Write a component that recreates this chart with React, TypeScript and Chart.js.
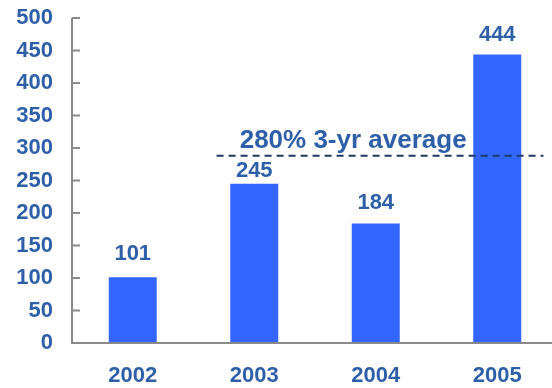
import React, { useEffect, useRef } from "react";
import { Chart, registerables } from "chart.js";

Chart.register(...registerables);

const years = ["2002", "2003", "2004", "2005"];
const values = [101, 245, 184, 444];
const yTicks = [0, 50, 100, 150, 200, 250, 300, 350, 400, 450, 500];
const avgValue = 288;
const avgLabel = "280% 3-yr average";
const avgSpan = [0.69, 3.38];
const avgLabelAt = 0.88;
const labelGaps = [17, 7, 14, 13];

const FONT = "'Liberation Sans', Arial, sans-serif";
const TEXT = "#2E5FA9";
const BAR = "#3366FF";
const AXIS = "#8a8a8a";

export default function App() {
  const ref = useRef<HTMLCanvasElement>(null);
  useEffect(() => {
    const canvas = ref.current!;
    const custom = {
      id: "custom",
      afterDatasetsDraw(chart: any) {
        const { ctx, chartArea } = chart;
        const xs = chart.scales.x;
        const ys = chart.scales.y;
        ctx.save();
        // axes
        ctx.strokeStyle = AXIS;
        ctx.lineWidth = 2;
        ctx.beginPath();
        ctx.moveTo(chartArea.left, ys.getPixelForValue(500));
        ctx.lineTo(chartArea.left, chartArea.bottom);
        ctx.lineTo(chartArea.right, chartArea.bottom);
        ctx.stroke();
        ctx.beginPath();
        yTicks.forEach((t) => {
          const y = ys.getPixelForValue(t);
          ctx.moveTo(chartArea.left, y);
          ctx.lineTo(chartArea.left + 8, y);
        });
        ctx.stroke();
        // value labels
        ctx.fillStyle = TEXT;
        ctx.font = `bold 22px ${FONT}`;
        ctx.textAlign = "center";
        ctx.textBaseline = "alphabetic";
        const meta = chart.getDatasetMeta(0);
        meta.data.forEach((bar: any, i: number) => {
          ctx.fillText(String(values[i]), bar.x, bar.y - labelGaps[i]);
        });
        // average line
        const ay = ys.getPixelForValue(avgValue);
        ctx.strokeStyle = "#1F3864";
        ctx.lineWidth = 2;
        ctx.setLineDash([7, 5]);
        ctx.beginPath();
        ctx.moveTo(xs.getPixelForValue(avgSpan[0]), ay);
        ctx.lineTo(xs.getPixelForValue(avgSpan[1]), ay);
        ctx.stroke();
        ctx.setLineDash([]);
        ctx.font = `bold 26px ${FONT}`;
        ctx.textAlign = "left";
        ctx.fillText(avgLabel, xs.getPixelForValue(avgLabelAt), ay - 8);
        ctx.restore();
      },
    };
    const chart = new Chart(canvas, {
      type: "bar",
      data: {
        labels: years,
        datasets: [
          {
            data: values,
            backgroundColor: BAR,
            barPercentage: 0.395,
            categoryPercentage: 1,
          },
        ],
      },
      options: {
        animation: false,
        responsive: false,
        maintainAspectRatio: false,
        layout: { padding: { top: 18, left: 0, right: 0, bottom: 0 } },
        plugins: { legend: { display: false }, tooltip: { enabled: false } },
        scales: {
          x: {
            grid: { display: false, drawTicks: false },
            border: { display: false },
            ticks: {
              color: TEXT,
              font: { family: FONT, size: 22, weight: "bold" },
              padding: 20,
              maxRotation: 0,
            },
            afterFit: (s: any) => {
              s.height = 45;
              s.paddingLeft = 0;
              s.paddingRight = 0;
            },
          },
          y: {
            min: 0,
            max: 500,
            grid: { display: false, drawTicks: false },
            border: { display: false },
            ticks: {
              stepSize: 50,
              color: TEXT,
              font: { family: FONT, size: 22, weight: "bold" },
              padding: 19,
            },
            afterFit: (s: any) => {
              s.width = 72;
              s.paddingTop = 0;
              s.paddingBottom = 0;
            },
          },
        },
      },
      plugins: [custom],
    });
    return () => chart.destroy();
  }, []);
  return (
    <div
      style={{
        position: "fixed",
        left: 0,
        top: 0,
        width: 552,
        height: 388,
        overflow: "hidden",
        background: "#fff",
      }}
    >
      <canvas ref={ref} width={558} height={388} style={{ width: 558, height: 388 }} />
    </div>
  );
}
